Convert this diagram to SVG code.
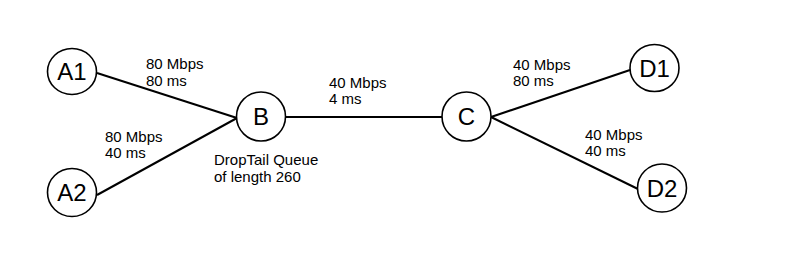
<svg xmlns="http://www.w3.org/2000/svg" width="785" height="255" viewBox="0 0 785 255">
<style>
.node ellipse{fill:#fff;stroke:#000;stroke-width:1.6}
.node text{font-family:"Liberation Sans",Arial,sans-serif;font-size:24px;text-anchor:middle;fill:#000}
.edge{stroke:#000;stroke-width:2;fill:none}
.lbl{font-family:"Liberation Sans",Arial,sans-serif;font-size:15px;fill:#000}
</style>
<rect width="785" height="255" fill="#fff"/>
<g id="connectors">
<line class="edge" x1="97" y1="73" x2="237" y2="118"/>
<line class="edge" x1="97" y1="195" x2="237" y2="118"/>
<line class="edge" x1="286" y1="117" x2="442" y2="117"/>
<line class="edge" x1="491" y1="117" x2="630" y2="70"/>
<line class="edge" x1="491" y1="117" x2="638" y2="189"/>
</g>
<g id="labels">
<text class="lbl" x="146" y="69">80 Mbps</text>
<text class="lbl" x="146" y="86">80 ms</text>
<text class="lbl" x="105" y="142">80 Mbps</text>
<text class="lbl" x="105" y="158">40 ms</text>
<text class="lbl" x="329" y="88">40 Mbps</text>
<text class="lbl" x="329" y="104">4 ms</text>
<text class="lbl" x="513" y="70">40 Mbps</text>
<text class="lbl" x="513" y="86">80 ms</text>
<text class="lbl" x="585" y="140">40 Mbps</text>
<text class="lbl" x="585" y="156">40 ms</text>
<text class="lbl" x="214" y="165">DropTail Queue</text>
<text class="lbl" x="214" y="182">of length 260</text>
</g>
<g id="A1" class="node"><ellipse cx="72" cy="71.5" rx="24.5" ry="23"/><text x="72" y="80">A1</text></g>
<g id="A2" class="node"><ellipse cx="72" cy="192.5" rx="24.5" ry="24"/><text x="72" y="201">A2</text></g>
<g id="B" class="node"><ellipse cx="261" cy="116.5" rx="24.5" ry="24.5"/><text x="261" y="125">B</text></g>
<g id="C" class="node"><ellipse cx="466.5" cy="116.5" rx="24.5" ry="24.5"/><text x="466.5" y="125">C</text></g>
<g id="D1" class="node"><ellipse cx="654.5" cy="68" rx="24.5" ry="23.5"/><text x="654.5" y="76.5">D1</text></g>
<g id="D2" class="node"><ellipse cx="662" cy="188" rx="24.5" ry="24"/><text x="662" y="196.5">D2</text></g>
</svg>
